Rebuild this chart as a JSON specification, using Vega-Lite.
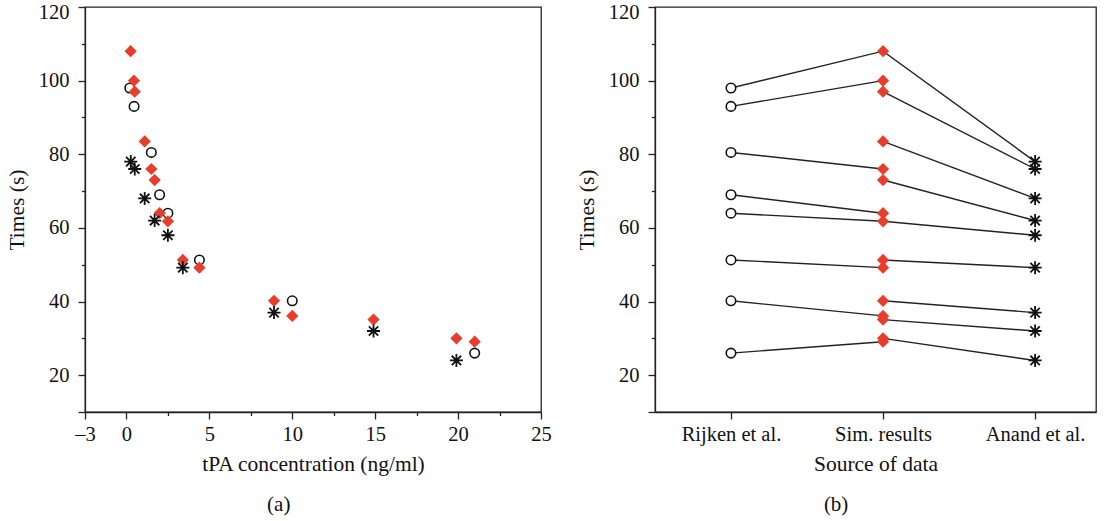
{
  "$schema": "https://vega.github.io/schema/vega-lite/v6.json",
  "background": "white",
  "padding": {"left": 5, "top": 1, "right": 0, "bottom": 0},
  "spacing": 114,
  "bounds": "flush",
  "config": {
    "font": "Liberation Serif, Times New Roman, serif",
    "view": {"stroke": "#222", "strokeWidth": 1.3},
    "axis": {
      "domainColor": "#222", "tickColor": "#222", "labelColor": "#111", "titleColor": "#111",
      "labelFont": "Liberation Serif, Times New Roman, serif", "titleFont": "Liberation Serif, Times New Roman, serif",
      "labelFontSize": 20.5, "titleFontSize": 21.5, "titleFontWeight": "normal",
      "grid": false, "domainWidth": 1.3, "tickWidth": 1.3,
      "labelFlush": false, "labelOverlap": false
    },
    "title": {"font": "Liberation Serif, Times New Roman, serif", "fontSize": 21, "fontWeight": "normal", "orient": "bottom", "frame": "bounds", "color": "#111", "offset": 19}
  },
  "datasets": {
    "left": [
      {"source": "Rijken et al.", "conc": 0.2, "time": 98},
      {"source": "Rijken et al.", "conc": 0.46, "time": 93},
      {"source": "Rijken et al.", "conc": 1.5, "time": 80.5},
      {"source": "Rijken et al.", "conc": 2.0, "time": 69},
      {"source": "Rijken et al.", "conc": 2.5, "time": 64},
      {"source": "Rijken et al.", "conc": 4.4, "time": 51.3},
      {"source": "Rijken et al.", "conc": 10, "time": 40.2},
      {"source": "Rijken et al.", "conc": 21, "time": 26},
      {"source": "Sim. results", "conc": 0.25, "time": 108},
      {"source": "Sim. results", "conc": 0.45, "time": 100},
      {"source": "Sim. results", "conc": 0.5, "time": 97},
      {"source": "Sim. results", "conc": 1.1, "time": 83.5},
      {"source": "Sim. results", "conc": 1.5, "time": 76},
      {"source": "Sim. results", "conc": 1.7, "time": 73},
      {"source": "Sim. results", "conc": 2.0, "time": 64},
      {"source": "Sim. results", "conc": 2.5, "time": 61.8},
      {"source": "Sim. results", "conc": 3.4, "time": 51.3},
      {"source": "Sim. results", "conc": 4.4, "time": 49.2},
      {"source": "Sim. results", "conc": 8.9, "time": 40.2},
      {"source": "Sim. results", "conc": 10, "time": 36.1},
      {"source": "Sim. results", "conc": 14.9, "time": 35.1},
      {"source": "Sim. results", "conc": 19.9, "time": 30},
      {"source": "Sim. results", "conc": 21, "time": 29.1},
      {"source": "Anand et al.", "conc": 0.26, "time": 78},
      {"source": "Anand et al.", "conc": 0.5, "time": 76},
      {"source": "Anand et al.", "conc": 1.1, "time": 68},
      {"source": "Anand et al.", "conc": 1.7, "time": 62},
      {"source": "Anand et al.", "conc": 2.5, "time": 58},
      {"source": "Anand et al.", "conc": 3.4, "time": 49.2},
      {"source": "Anand et al.", "conc": 8.9, "time": 37},
      {"source": "Anand et al.", "conc": 14.9, "time": 32},
      {"source": "Anand et al.", "conc": 19.9, "time": 24}
    ],
    "right": [
      {"group": 1, "source": "Rijken et al.", "time": 98},
      {"group": 1, "source": "Sim. results", "time": 108},
      {"group": 1, "source": "Anand et al.", "time": 78},
      {"group": 2, "source": "Rijken et al.", "time": 93},
      {"group": 2, "source": "Sim. results", "time": 100},
      {"group": 3, "source": "Sim. results", "time": 97},
      {"group": 3, "source": "Anand et al.", "time": 76},
      {"group": 4, "source": "Sim. results", "time": 83.5},
      {"group": 4, "source": "Anand et al.", "time": 68},
      {"group": 5, "source": "Rijken et al.", "time": 80.5},
      {"group": 5, "source": "Sim. results", "time": 76},
      {"group": 6, "source": "Sim. results", "time": 73},
      {"group": 6, "source": "Anand et al.", "time": 62},
      {"group": 7, "source": "Rijken et al.", "time": 69},
      {"group": 7, "source": "Sim. results", "time": 64},
      {"group": 8, "source": "Rijken et al.", "time": 64},
      {"group": 8, "source": "Sim. results", "time": 61.8},
      {"group": 8, "source": "Anand et al.", "time": 58},
      {"group": 9, "source": "Rijken et al.", "time": 51.3},
      {"group": 9, "source": "Sim. results", "time": 49.2},
      {"group": 10, "source": "Sim. results", "time": 51.3},
      {"group": 10, "source": "Anand et al.", "time": 49.2},
      {"group": 11, "source": "Rijken et al.", "time": 40.2},
      {"group": 11, "source": "Sim. results", "time": 36.1},
      {"group": 12, "source": "Sim. results", "time": 40.2},
      {"group": 12, "source": "Anand et al.", "time": 37},
      {"group": 13, "source": "Sim. results", "time": 35.1},
      {"group": 13, "source": "Anand et al.", "time": 32},
      {"group": 14, "source": "Rijken et al.", "time": 26},
      {"group": 14, "source": "Sim. results", "time": 29.1},
      {"group": 15, "source": "Sim. results", "time": 30},
      {"group": 15, "source": "Anand et al.", "time": 24}
    ]
  },
  "hconcat": [
    {
      "width": 456,
      "height": 405,
      "title": "(a)",
      "data": {"name": "left"},
      "encoding": {
        "x": {
          "field": "conc", "type": "quantitative",
          "scale": {"domain": [-2.5, 25], "nice": false, "zero": false},
          "axis": {
            "title": "tPA concentration (ng/ml)",
            "values": [-2.5, 0, 2.5, 5, 7.5, 10, 12.5, 15, 17.5, 20, 22.5, 25],
            "labelExpr": "datum.value == -2.5 ? '–3' : (datum.value % 5 == 0 ? datum.label : '')",
            "tickSize": {"condition": {"test": "datum.value % 5 == 0 || datum.value == -2.5", "value": 7}, "value": 3.5},
            "labelPadding": 5,
            "titlePadding": 9
          }
        },
        "y": {
          "field": "time", "type": "quantitative",
          "scale": {"domain": [10, 120], "nice": false, "zero": false},
          "axis": {
            "title": "Times (s)",
            "values": [10, 20, 30, 40, 50, 60, 70, 80, 90, 100, 110, 120],
            "labelExpr": "datum.value % 20 == 0 ? datum.label : ''",
            "labelOffset": {"condition": {"test": "datum.value == 120", "value": 5}, "value": 0},
            "tickSize": {"condition": {"test": "datum.value % 20 == 0 || datum.value == 10", "value": 7}, "value": 3.5},
            "labelPadding": 9,
            "titlePadding": 10
          }
        }
      },
      "layer": [
        {
          "transform": [{"filter": "datum.source == 'Rijken et al.'"}],
          "mark": {"type": "point", "shape": "circle", "filled": false, "stroke": "#111", "strokeWidth": 1.6, "size": 90, "opacity": 1}
        },
        {
          "transform": [{"filter": "datum.source == 'Sim. results'"}],
          "mark": {"type": "point", "shape": "diamond", "filled": true, "fill": "#e83d2c", "color": "#e83d2c", "size": 150, "opacity": 1, "strokeWidth": 0}
        },
        {
          "transform": [{"filter": "datum.source == 'Anand et al.'"}],
          "mark": {"type": "point", "shape": "M-1,0L1,0M0,-1L0,1M-0.72,-0.72L0.72,0.72M-0.72,0.72L0.72,-0.72", "filled": false, "stroke": "#111", "strokeWidth": 1.8, "size": 170, "opacity": 1}
        }
      ]
    },
    {
      "width": 441,
      "height": 405,
      "title": "(b)",
      "data": {"name": "right"},
      "encoding": {
        "x": {
          "field": "source", "type": "nominal",
          "sort": ["Rijken et al.", "Sim. results", "Anand et al."],
          "scale": {"type": "point", "padding": 0.45, "align": 0.555},
          "axis": {"title": "Source of data", "labelAngle": 0, "tickSize": 7, "labelPadding": 5, "titlePadding": 9}
        },
        "y": {
          "field": "time", "type": "quantitative",
          "scale": {"domain": [10, 120], "nice": false, "zero": false},
          "axis": {
            "title": "Times (s)",
            "values": [10, 20, 30, 40, 50, 60, 70, 80, 90, 100, 110, 120],
            "labelExpr": "datum.value % 20 == 0 ? datum.label : ''",
            "labelOffset": {"condition": {"test": "datum.value == 120", "value": 5}, "value": 0},
            "tickSize": {"condition": {"test": "datum.value % 20 == 0 || datum.value == 10", "value": 7}, "value": 3.5},
            "labelPadding": 9,
            "titlePadding": 10
          }
        }
      },
      "layer": [
        {
          "mark": {"type": "line", "color": "#222", "strokeWidth": 1.4},
          "encoding": {"detail": {"field": "group", "type": "nominal"}, "order": {"value": null}}
        },
        {
          "transform": [{"filter": "datum.source == 'Rijken et al.'"}],
          "mark": {"type": "point", "shape": "circle", "filled": true, "fill": "white", "stroke": "#111", "strokeWidth": 1.6, "size": 90, "opacity": 1}
        },
        {
          "transform": [{"filter": "datum.source == 'Sim. results'"}],
          "mark": {"type": "point", "shape": "diamond", "filled": true, "fill": "#e83d2c", "color": "#e83d2c", "size": 150, "opacity": 1, "strokeWidth": 0}
        },
        {
          "transform": [{"filter": "datum.source == 'Anand et al.'"}],
          "mark": {"type": "point", "shape": "M-1,0L1,0M0,-1L0,1M-0.72,-0.72L0.72,0.72M-0.72,0.72L0.72,-0.72", "filled": false, "stroke": "#111", "strokeWidth": 1.8, "size": 170, "opacity": 1}
        }
      ]
    }
  ]
}
